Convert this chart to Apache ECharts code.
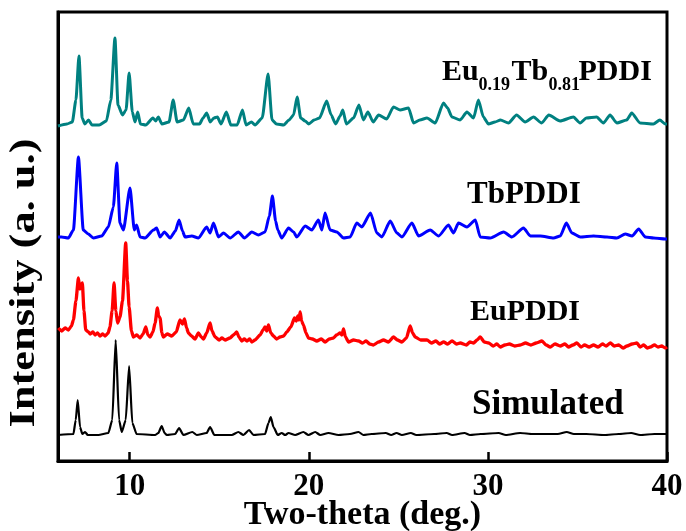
<!DOCTYPE html>
<html>
<head>
<meta charset="utf-8">
<script src="https://cdn.jsdelivr.net/npm/echarts@6/dist/echarts.min.js"></script>
<style>
html,body{margin:0;padding:0;background:#fff;}
#chart{width:686px;height:531px;}
</style>
</head>
<body>
<div id="chart"></div>
<script>
// ---- data (two-theta in degrees, intensity in arbitrary offset units) ----
const xTickValues = [10, 20, 30, 40];

const tealX = [6.0,6.5,6.8,7.0,7.17,7.35,7.5,7.7,7.9,8.3,8.7,8.95,9.18,9.35,9.6,9.8,9.97,10.15,10.3,10.45,10.6,10.9,11.3,11.45,11.6,11.8,12.2,12.43,12.65,13.0,13.3,13.55,13.9,14.1,14.3,14.5,14.7,14.9,15.1,15.4,15.65,16.0,16.3,16.5,16.8,17.0,17.4,17.73,17.95,18.2,18.6,18.9,19.15,19.35,19.55,19.8,20.0,20.3,20.6,21.0,21.25,21.5,21.75,21.9,22.1,22.5,22.8,23.05,23.3,23.6,23.9,24.35,24.73,25.1,25.57,25.85,26.2,26.6,27.06,27.52,27.75,27.99,28.45,28.83,29.2,29.47,29.75,30.03,30.4,30.7,31.15,31.6,32.08,32.55,33.0,33.4,34.03,34.77,35.15,35.5,36.07,36.45,36.82,37.2,37.75,38.03,38.5,39.24,39.6,39.9,40.0];
const tealY = [335,337,339,361,405,343,337,341,336,336,340,361,423,356,346,351,388,349,339,349,337,336,343,340,344,337,339,361,339,341,353,337,337,343,348,339,343,344,337,349,336,336,351,336,339,336,343,387,341,337,336,341,346,364,343,340,337,341,343,360,346,337,345,351,337,343,356,341,349,339,346,342,354,351,353,338,341,343,338,358,353,344,341,349,343,361,344,337,339,341,338,346,339,344,338,346,340,344,338,343,344,338,346,338,341,348,338,337,341,337,337];

const blueX = [6.0,6.2,6.58,6.86,7.14,7.41,7.69,7.97,8.44,8.81,9.09,9.28,9.46,9.65,10.02,10.26,10.39,10.58,10.86,11.33,11.51,11.7,11.94,12.26,12.55,12.76,12.95,13.09,13.47,13.84,14.3,14.49,14.68,14.96,15.24,15.61,16.07,16.41,16.82,17.19,17.56,17.8,17.97,18.15,18.27,18.49,18.87,19.15,19.33,19.8,20.17,20.54,20.73,20.91,21.19,21.57,21.94,22.31,22.68,22.96,23.45,23.8,24.08,24.55,24.92,25.2,25.76,26.13,26.78,27.25,27.8,28.08,28.36,28.83,29.3,29.57,30.13,30.88,31.34,31.99,32.37,32.93,33.67,34.04,34.38,34.69,35.16,35.9,36.65,37.2,37.67,38.05,38.42,38.79,39.26,39.91,40.0];
const blueY = [224,224,223,231,304,231,227,223,225,234,254,298,238,231,273,231,236,224,223,231,233,224,229,223,230,241,230,224,225,223,234,228,238,224,228,223,229,223,229,226,229,245,265,240,231,223,233,229,224,235,231,241,231,248,231,229,223,224,238,234,248,228,224,240,228,224,238,225,231,225,236,228,238,234,241,224,223,229,224,233,225,225,223,225,238,228,224,225,224,223,227,225,232,224,223,222,222];

const redX = [6.02,6.2,6.4,6.58,6.75,6.86,7.0,7.14,7.22,7.29,
  7.36,7.45,7.55,7.7,7.8,7.95,8.07,8.2,8.35,8.5,
  8.63,8.8,8.9,9.02,9.13,9.23,9.33,9.46,9.6,9.78,
  9.88,9.97,10.1,10.21,10.4,10.58,10.75,10.9,11.02,11.14,
  11.3,11.42,11.55,11.62,11.7,11.8,11.88,12.1,12.35,12.6,
  12.81,12.95,13.06,13.18,13.28,13.45,13.65,13.84,14.0,14.12,
  14.3,14.49,14.6,14.77,15.0,15.15,15.33,15.6,15.8,15.98,
  16.1,16.26,16.4,16.55,16.7,16.82,17.0,17.28,17.45,17.56,
  17.65,17.75,17.88,18.03,18.2,18.4,18.6,18.77,19.0,19.2,
  19.3,19.39,19.45,19.52,19.6,19.7,19.85,19.98,20.2,20.45,
  20.7,20.91,21.15,21.38,21.55,21.75,21.85,21.94,22.05,22.22,
  22.5,22.78,23.0,23.2,23.4,23.61,23.9,24.17,24.45,24.73,
  24.95,25.2,25.45,25.66,25.8,25.94,26.25,26.6,26.85,27.1,
  27.3,27.53,27.75,28.0,28.25,28.46,28.8,29.0,29.2,29.4,
  29.57,29.8,30.04,30.3,30.5,30.69,30.95,31.2,31.5,31.81,
  32.1,32.4,32.7,33.02,33.25,33.48,33.75,34.04,34.3,34.5,
  34.75,34.97,35.2,35.4,35.65,35.9,36.15,36.4,36.6,36.84,
  37.05,37.3,37.55,37.77,38.05,38.32,38.5,38.7,38.9,39.07,
  39.3,39.5,39.7,39.91,40.0];
const redY = [133,130,133,131,135,141,160,183,172,176,
  178,150,131,129,127,129,126,128,125,127,
  125,128,134,150,178,150,138,144,160,218,
  180,154,130,124,126,123,127,134,126,124,
  129,138,153,145,143,128,124,127,125,129,
  141,137,142,133,128,125,122,128,124,122,
  128,138,130,124,121,123,121,123,126,129,
  124,120,122,120,122,119,121,126,131,134,
  130,136,128,125,122,124,125,129,134,143,
  140,145,141,149,140,136,128,123,122,120,
  122,119,122,123,126,128,126,132,124,119,
  121,120,118,120,117,116,119,121,119,124,
  121,119,123,135,128,124,121,121,118,120,
  117,119,117,120,117,118,116,119,118,121,
  124,119,118,115,117,114,116,117,115,116,
  118,116,118,120,116,114,117,115,117,114,
  116,118,114,116,114,116,114,117,115,118,
  115,116,113,115,117,118,114,116,113,114,
  116,114,115,113,114];

const blackX = [6.0,6.86,6.99,7.1,7.23,7.36,7.51,7.66,8.25,8.81,9.03,9.22,9.41,9.56,9.78,9.97,10.15,10.39,11.42,11.6,11.79,11.95,12.07,12.54,12.76,13.0,13.5,13.75,14.3,14.49,14.73,15.7,16.07,16.35,16.67,16.91,17.56,17.75,17.88,18.03,18.27,18.49,18.68,18.87,19.24,19.7,19.98,20.36,20.64,21.1,21.66,22.3,22.78,23.05,23.5,24.3,24.6,24.9,25.2,25.7,26.0,27.0,27.7,28.0,28.7,29.0,29.6,30.6,31.0,31.8,32.5,33.9,34.4,34.8,35.5,36.5,37.3,38.0,38.5,39.3,40.0];
const blackY = [26,27,41,61,34,27,29,26,26,28,41,121,41,29,41,95,38,27,26,28,35,28,26,27,33,26,29,26,28,34,26,26,29,26,31,26,27,38,44,34,26,28,26,28,26,29,26,29,26,28,26,27,29,26,27,28,26,28,26,28,26,27,28,26,28,26,27,28,26,28,27,27,29,27,27,26,27,28,26,27,27];

const seriesNames = ['Eu0.19Tb0.81PDDI', 'TbPDDI', 'EuPDDI', 'Simulated'];
const xAxisTitle = 'Two-theta (deg.)';
const yAxisTitle = 'Intensity (a. u.)';

function zip(xs, ys) { return xs.map((x, i) => [x, ys[i]]); }

const SERIF = '"Liberation Serif", "Times New Roman", serif';
const chart = echarts.init(document.getElementById('chart'), null, {renderer: 'canvas'});

function lineSeries(name, xs, ys, color, width) {
  return {
    name: name, type: 'line', data: zip(xs, ys),
    showSymbol: false, symbol: 'none', smooth: 0.2, smoothMonotone: 'x',
    lineStyle: {color: color, width: width, join: 'round'},
    itemStyle: {color: color}, animation: false, silent: true
  };
}

function txt(text, x, y, size) {
  return {type: 'text', x: x, y: y, silent: true,
    style: {text: text, fill: '#000', font: 'bold ' + size + 'px ' + SERIF,
      textAlign: 'left', textVerticalAlign: 'middle', verticalAlign: 'middle'}};
}

const option = {
  backgroundColor: '#fff',
  animation: false,
  grid: {left: 58, right: 19, top: 12, bottom: 70, containLabel: false, outerBoundsMode: 'none',
    show: true, borderColor: '#000', borderWidth: 3, backgroundColor: 'transparent'},
  xAxis: {
    type: 'value', min: 6, max: 40,
    name: xAxisTitle, nameLocation: 'middle', nameGap: 37, nameMoveOverlap: false,
    nameTextStyle: {fontFamily: SERIF, fontWeight: 'bold', fontSize: 34, color: '#000'},
    axisLine: {show: true, lineStyle: {color: '#000', width: 3}},
    axisTick: {show: true, inside: true, length: 9, lineStyle: {color: '#000', width: 2.5}, customValues: xTickValues},
    axisLabel: {show: true, margin: 10, fontFamily: SERIF, fontWeight: 'bold', fontSize: 31, color: '#000', customValues: xTickValues, hideOverlap: false},
    splitLine: {show: false}
  },
  yAxis: {
    type: 'value', min: 0, max: 449,
    axisLine: {show: true, lineStyle: {color: '#000', width: 3}},
    axisTick: {show: false}, axisLabel: {show: false}, splitLine: {show: false}
  },
  series: [
    lineSeries(seriesNames[0], tealX, tealY, '#008080', 3),
    lineSeries(seriesNames[1], blueX, blueY, '#0000ff', 3),
    lineSeries(seriesNames[2], redX, redY, '#ff0000', 3.3),
    lineSeries(seriesNames[3], blackX, blackY, '#000000', 2.2)
  ],
  graphic: [
    {type: 'text', x: 25, y: 283, rotation: Math.PI / 2, scaleX: 1.27, silent: true,
      style: {text: yAxisTitle, fill: '#000', font: 'bold 35px ' + SERIF,
        textAlign: 'center', textVerticalAlign: 'middle', verticalAlign: 'middle'}},
    txt('Eu', 442, 72.5, 30),
    txt('0.19', 478.5, 85.5, 18),
    txt('Tb', 511.5, 72.5, 30),
    txt('0.81', 548.5, 85.5, 18),
    txt('PDDI', 578.5, 72.5, 30),
    txt('TbPDDI', 467, 195, 31),
    txt('EuPDDI', 470, 312.5, 30),
    txt('Simulated', 472, 405, 35)
  ]
};
chart.setOption(option);
</script>
</body>
</html>
